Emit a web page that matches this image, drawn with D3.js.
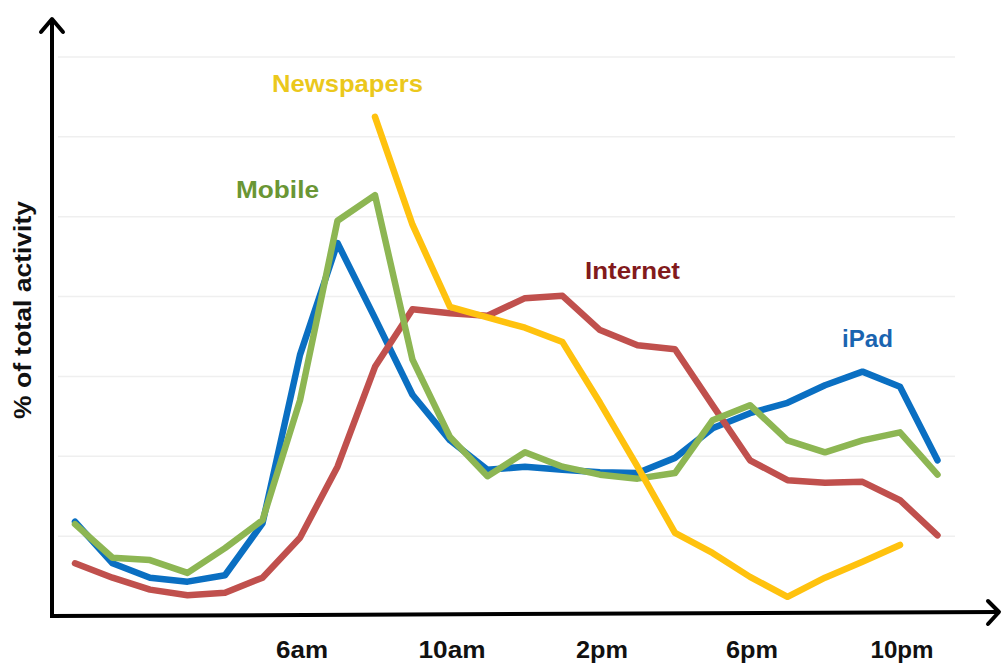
<!DOCTYPE html>
<html>
<head>
<meta charset="utf-8">
<script src="https://cdn.jsdelivr.net/npm/d3@7"></script>
<style>
  html, body { margin: 0; padding: 0; background: #fff; }
  svg { display: block; }
  text { font-family: "Liberation Sans", Arial, sans-serif; font-weight: bold; }
</style>
</head>
<body>
<svg id="chart" width="1003" height="667"></svg>
<script>
// Hours of the day (0 = midnight ... 23 = 11pm)
const hours = d3.range(0, 24);
const tickHours = [6, 10, 14, 18, 22];
const tickLabels = ["6am", "10am", "2pm", "6pm", "10pm"];
const gridValues = [1, 2, 3, 4, 5, 6, 7];

// Series values (relative units of % of total activity)
const internet = [0.66, 0.48, 0.33, 0.26, 0.29, 0.48, 0.98, 1.87, 3.12, 3.84, 3.79, 3.76, 3.98, 4.01, 3.58, 3.39, 3.34, 2.64, 1.95, 1.70, 1.67, 1.68, 1.45, 1.01];
const ipad     = [1.18, 0.66, 0.48, 0.43, 0.51, 1.16, 3.27, 4.67, 3.73, 2.77, 2.20, 1.83, 1.87, 1.83, 1.80, 1.79, 1.98, 2.35, 2.54, 2.67, 2.89, 3.06, 2.87, 1.95];
const mobile   = [1.15, 0.73, 0.70, 0.54, 0.85, 1.20, 2.70, 4.95, 5.27, 3.21, 2.24, 1.75, 2.05, 1.87, 1.77, 1.72, 1.79, 2.45, 2.64, 2.20, 2.05, 2.20, 2.30, 1.77];
const newspaperHours = d3.range(8, 23);
const newspapers = [6.25, 4.90, 3.87, 3.74, 3.61, 3.43, 2.67, 1.87, 1.04, 0.79, 0.49, 0.24, 0.48, 0.68, 0.89];

const seriesNames = ["Internet", "iPad", "Mobile", "Newspapers"];
const seriesColors = ["#C0504D", "#0A6FC2", "#8DB653", "#FFC20E"];
const labelColors = ["#821A1C", "#1A64B0", "#6A9634", "#EBC81C"];

const svg = d3.select("#chart");
const x = d3.scaleLinear().domain([0, 23]).range([75, 937.5]);
const y = d3.scaleLinear().domain([0, 7]).range([616, 57]);

// Gridlines
svg.append("g").selectAll("line").data(gridValues).join("line")
  .attr("x1", 58).attr("x2", 955)
  .attr("y1", d => y(d)).attr("y2", d => y(d))
  .attr("stroke", "#efefef").attr("stroke-width", 1.5);

// Lines
const line = d3.line().x(d => x(d[0])).y(d => y(d[1]));
const data = [
  hours.map((h, i) => [h, internet[i]]),
  hours.map((h, i) => [h, ipad[i]]),
  hours.map((h, i) => [h, mobile[i]]),
  newspaperHours.map((h, i) => [h, newspapers[i]])
];
const order = [1, 0, 2, 3];
order.forEach(i => {
  svg.append("path").datum(data[i])
    .attr("d", line)
    .attr("fill", "none")
    .attr("stroke", seriesColors[i])
    .attr("stroke-width", 6.5)
    .attr("stroke-linejoin", "round")
    .attr("stroke-linecap", "round");
});

// Axes (arrows)
const axisColor = "#000";
svg.append("line").attr("x1", 52).attr("x2", 52).attr("y1", 618).attr("y2", 20)
  .attr("stroke", axisColor).attr("stroke-width", 4);
svg.append("path").attr("d", "M41,32 L52,19 L63,32")
  .attr("fill", "none").attr("stroke", axisColor).attr("stroke-width", 4)
  .attr("stroke-linecap", "round").attr("stroke-linejoin", "round");
svg.append("line").attr("x1", 50).attr("x2", 998).attr("y1", 616).attr("y2", 612)
  .attr("stroke", axisColor).attr("stroke-width", 4);
svg.append("path").attr("d", "M988,601 L999,612 L988,624")
  .attr("fill", "none").attr("stroke", axisColor).attr("stroke-width", 4)
  .attr("stroke-linecap", "round").attr("stroke-linejoin", "round");

// X tick labels
const tickWidths = [52, 67, 52, 52, 63];
svg.append("g").selectAll("text").data(tickHours).join("text")
  .attr("x", d => x(d) + 2)
  .attr("y", 658)
  .attr("text-anchor", "middle")
  .attr("font-size", 23)
  .attr("fill", "#111")
  .attr("textLength", (d, i) => tickWidths[i])
  .attr("lengthAdjust", "spacingAndGlyphs")
  .text((d, i) => tickLabels[i]);

// Y axis title
svg.append("text")
  .attr("transform", "translate(31,310) rotate(-90)")
  .attr("text-anchor", "middle")
  .attr("font-size", 23)
  .attr("fill", "#111")
  .attr("textLength", 218)
  .attr("lengthAdjust", "spacingAndGlyphs")
  .text("% of total activity");

// Series labels
const labelPos = [[585, 279], [842, 347], [236, 198], [272, 92]];
const labelWidths = [95, 51, 83, 151];
seriesNames.forEach((n, i) => {
  svg.append("text")
    .attr("x", labelPos[i][0]).attr("y", labelPos[i][1])
    .attr("font-size", 24)
    .attr("fill", labelColors[i])
    .attr("textLength", labelWidths[i])
    .attr("lengthAdjust", "spacingAndGlyphs")
    .text(n);
});
</script>
</body>
</html>
